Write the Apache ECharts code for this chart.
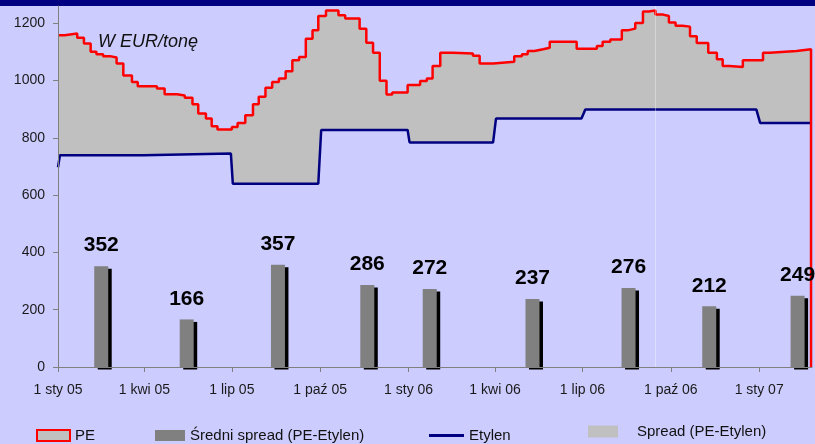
<!DOCTYPE html>
<html>
<head>
<meta charset="utf-8">
<script src="https://cdn.jsdelivr.net/npm/echarts@6/dist/echarts.min.js"></script>
<style>
  html, body { margin: 0; padding: 0; background: #CCCCFF; }
  #chart { width: 815px; height: 444px; }
</style>
</head>
<body>
<div id="chart"></div>
<script>
// PE price (EUR/t), each value holds until the next date
const peDates = [
  '2005-01-01', '2005-01-08', '2005-01-21', '2005-01-28', '2005-02-04', '2005-02-10',
  '2005-02-17', '2005-02-24', '2005-03-03', '2005-03-10', '2005-03-19', '2005-03-25',
  '2005-04-14', '2005-04-22', '2005-05-05', '2005-05-13', '2005-05-21', '2005-05-27',
  '2005-06-04', '2005-06-10', '2005-06-16', '2005-07-01', '2005-07-07', '2005-07-15',
  '2005-07-23', '2005-07-29', '2005-08-05', '2005-08-12', '2005-08-19', '2005-08-26',
  '2005-09-02', '2005-09-09', '2005-09-16', '2005-09-23', '2005-09-29', '2005-10-07',
  '2005-10-20', '2005-10-27', '2005-11-11', '2005-11-18', '2005-11-25', '2005-12-02',
  '2005-12-09', '2005-12-15', '2005-12-31', '2006-01-13', '2006-01-20', '2006-01-26',
  '2006-02-03', '2006-02-16', '2006-03-09', '2006-03-16', '2006-03-30', '2006-04-21',
  '2006-04-29', '2006-05-05', '2006-05-12', '2006-05-21', '2006-05-28', '2006-06-25',
  '2006-07-16', '2006-07-22', '2006-07-30', '2006-08-11', '2006-08-17', '2006-08-25',
  '2006-09-02', '2006-09-08', '2006-09-15', '2006-09-23', '2006-09-29', '2006-10-06',
  '2006-10-13', '2006-10-21', '2006-10-28', '2006-11-09', '2006-11-18', '2006-11-24',
  '2006-12-01', '2006-12-15', '2007-01-05', '2007-01-12', '2007-02-09', '2007-02-24'
];
const peValues = [
  1158, 1164, 1149, 1129, 1100, 1092,
  1085, 1080, 1059, 1017, 995, 980,
  972, 952, 948, 940, 917, 885,
  867, 840, 829, 838, 852, 879,
  917, 943, 975, 995, 1007, 1032,
  1071, 1082, 1146, 1175, 1225, 1244,
  1228, 1216, 1181, 1132, 1097, 999,
  951, 958, 984, 998, 1007, 1051,
  1097, 1094, 1086, 1059, 1065, 1085,
  1092, 1103, 1109, 1114, 1135, 1111,
  1120, 1135, 1143, 1175, 1181, 1201,
  1241, 1244, 1230, 1225, 1202, 1191,
  1188, 1154, 1131, 1097, 1074, 1051,
  1047, 1071, 1097, 1103, 1109, 0
];

// Etylen contract price (EUR/t)
const etylenDates = [
  '2005-01-01', '2005-01-03', '2005-03-31', '2005-04-02', '2005-06-30', '2005-07-02',
  '2005-09-29', '2005-10-02', '2005-12-31', '2006-01-02', '2006-03-30', '2006-04-02',
  '2006-06-30', '2006-07-04', '2006-12-29', '2007-01-02', '2007-02-25'
];
const etylenValues = [
  697, 739, 739, 745, 745, 640,
  640, 827, 827, 784, 784, 867,
  867, 899, 899, 852, 852
];

// Średni spread (PE-Etylen) per quarter
const avgSpreadDates = [
  '2005-02-15', '2005-05-15', '2005-08-18', '2005-11-19', '2006-01-23',
  '2006-05-10', '2006-08-18', '2006-11-10', '2007-02-10'
];
const avgSpreadValues = [352, 166, 357, 286, 272, 237, 276, 212, 249];

// axis ticks
const quarterDates = [
  '2005-01-01', '2005-04-01', '2005-07-01', '2005-10-01', '2006-01-01',
  '2006-04-01', '2006-07-01', '2006-10-01', '2007-01-01'
];
const quarterLabels = [
  '1 sty 05', '1 kwi 05', '1 lip 05', '1 paź 05', '1 sty 06',
  '1 kwi 06', '1 lip 06', '1 paź 06', '1 sty 07'
];
const yTicks = [0, 200, 400, 600, 800, 1000, 1200];

// dates become day numbers counted from 1 Jan 2005
const DAY0 = Date.UTC(2005, 0, 1);
const toDay = (d) => {
  const [y, m, day] = d.split('-').map(Number);
  return Math.round((Date.UTC(y, m - 1, day) - DAY0) / 86400000);
};

const pe = peDates.map((d, i) => [toDay(d), peValues[i]]);
const etylen = etylenDates.map((d, i) => [toDay(d), etylenValues[i]]);
const avgSpread = avgSpreadDates.map((d, i) => [toDay(d), avgSpreadValues[i]]);
const quarterDays = quarterDates.map(toDay);

const chart = echarts.init(document.getElementById('chart'));
const FONT = 'Liberation Sans, Arial, sans-serif';
const legendText = { fontSize: 15, color: '#111' };

const options = {
  animation: false,
  backgroundColor: '#CCCCFF',
  textStyle: { fontFamily: FONT },
  grid: { left: 58, right: 3, top: 6, bottom: 77, outerBoundsMode: 'none' },
  xAxis: {
    type: 'value',
    min: 0,
    max: toDay('2007-02-25'),
    z: 10,
    axisLine: { lineStyle: { color: '#808080', width: 1 } },
    axisTick: { show: true, length: 5, customValues: quarterDays, lineStyle: { color: '#808080' } },
    axisLabel: {
      customValues: quarterDays,
      formatter: (v) => {
        const i = quarterDays.indexOf(v);
        return i >= 0 ? quarterLabels[i] : '';
      },
      fontSize: 14,
      color: '#1a1a1a',
      margin: 16,
    },
    splitLine: { show: false },
  },
  yAxis: {
    type: 'value',
    min: 0,
    max: 1260,
    z: 10,
    axisLine: { show: true, lineStyle: { color: '#808080', width: 1 } },
    axisTick: { show: true, length: 5, customValues: yTicks, lineStyle: { color: '#808080' } },
    axisLabel: {
      customValues: yTicks,
      formatter: (v) => String(v),
      fontSize: 14,
      color: '#1a1a1a',
      margin: 13,
    },
    splitLine: { show: false },
  },
  legend: [
    {
      left: 31, top: 423, itemWidth: 33, itemHeight: 11, selectedMode: false,
      textStyle: legendText,
      data: [{ name: 'PE', icon: 'rect', itemStyle: { color: '#C0C0C0', borderColor: '#FF0000', borderWidth: 2 } }],
    },
    {
      left: 150, top: 423, itemWidth: 30, itemHeight: 11, selectedMode: false,
      textStyle: legendText,
      data: [{
        name: 'Średni spread (PE-Etylen)', icon: 'rect',
        itemStyle: { color: '#808080', shadowBlur: 0, shadowOffsetX: 0, shadowOffsetY: 0, shadowColor: 'transparent' },
      }],
    },
    {
      left: 424, top: 423, itemWidth: 35, itemHeight: 3, selectedMode: false,
      textStyle: legendText,
      data: [{ name: 'Etylen', icon: 'rect', itemStyle: { color: '#000080' } }],
    },
    {
      left: 583, top: 419, itemWidth: 30, itemHeight: 12, selectedMode: false,
      textStyle: Object.assign({ padding: [0, 0, 0, 14] }, legendText),
      data: [{ name: 'Spread (PE-Etylen)', icon: 'rect', itemStyle: { color: '#C0C0C0' } }],
    },
  ],
  graphic: [
    { type: 'rect', left: 0, top: 0, shape: { width: 815, height: 6 }, style: { fill: '#000080' } },
    {
      type: 'text', left: 98, top: 33, z: 20,
      style: { text: 'W EUR/tonę', font: 'italic 18px ' + FONT, fill: '#111' },
    },
  ],
  series: [
    {
      name: 'Spread (PE-Etylen)',
      type: 'line',
      step: 'end',
      z: 1,
      data: pe,
      symbol: 'none',
      lineStyle: { opacity: 0 },
      areaStyle: { color: '#C0C0C0', opacity: 1 },
    },
    {
      // hides the area below the ethylene line, leaving only the spread band
      name: 'mask',
      type: 'line',
      z: 1,
      data: etylen,
      symbol: 'none',
      lineStyle: { opacity: 0 },
      areaStyle: { color: '#CCCCFF', opacity: 1 },
      markLine: {
        silent: true,
        symbol: 'none',
        label: { show: false },
        lineStyle: { color: 'rgba(255,255,255,0.35)', width: 1, type: 'solid' },
        data: [{ xAxis: toDay('2006-09-15') }],
      },
    },
    {
      name: 'Etylen',
      type: 'line',
      z: 3,
      data: etylen,
      symbol: 'none',
      lineStyle: { color: '#000080', width: 2.5 },
      itemStyle: { color: '#000080' },
    },
    {
      name: 'PE',
      type: 'line',
      step: 'end',
      z: 3,
      data: pe,
      symbol: 'none',
      lineStyle: { color: '#FF0000', width: 2.5 },
      itemStyle: { color: '#FF0000' },
      markLine: {
        silent: true,
        symbol: 'none',
        label: { show: false },
        lineStyle: { color: '#FF0000', width: 1.5, type: 'solid' },
        data: [{ yAxis: -2 }],
      },
    },
    {
      name: 'Średni spread (PE-Etylen)',
      type: 'bar',
      z: 5,
      data: avgSpread,
      barWidth: 14,
      itemStyle: {
        color: '#808080',
        shadowColor: '#000000',
        shadowBlur: 0,
        shadowOffsetX: 3.5,
        shadowOffsetY: 2.5,
      },
      label: {
        show: true,
        position: 'top',
        distance: 10,
        formatter: (p) => p.value[1],
        fontSize: 21,
        fontWeight: 'bold',
        color: '#000',
      },
    },
  ],
};

chart.setOption(options);
</script>
</body>
</html>
